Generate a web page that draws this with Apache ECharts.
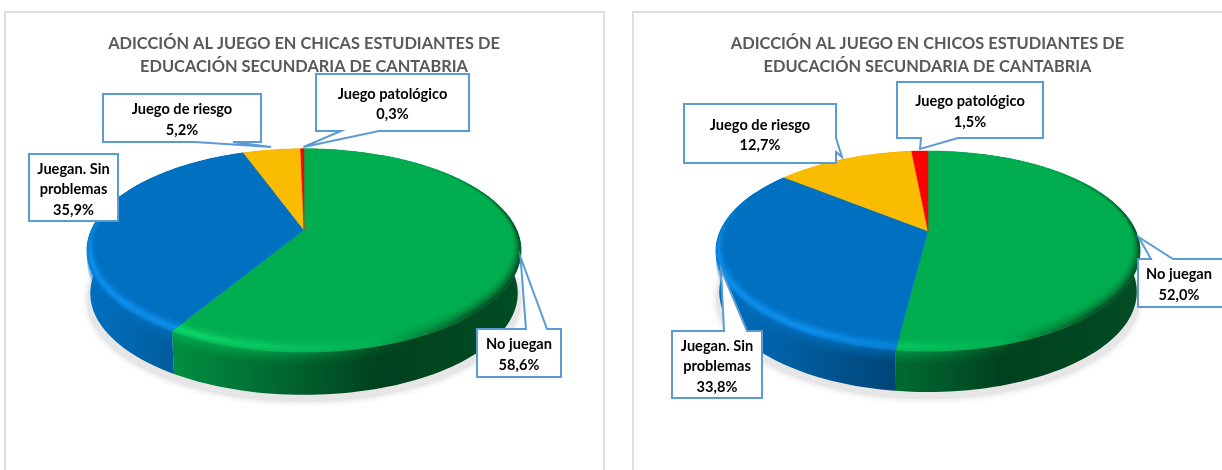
<!DOCTYPE html>
<html>
<head>
<meta charset="utf-8">
<title>Adicción al juego</title>
<script src="https://cdn.jsdelivr.net/npm/echarts@6/dist/echarts.min.js"></script>
<style>
  html, body { margin: 0; padding: 0; background: #fff; }
  #main { width: 1222px; height: 470px; }
</style>
</head>
<body>
<div id="main"></div>
<script>
// datos
const categories = ['No juegan', 'Juegan. Sin\nproblemas', 'Juego de riesgo', 'Juego patológico']
const valuesChicas = [58.6, 35.9, 5.2, 0.3]
const valuesChicos = [52.0, 33.8, 12.7, 1.5]
const titleChicas = 'ADICCIÓN AL JUEGO EN CHICAS ESTUDIANTES DE\nEDUCACIÓN SECUNDARIA DE CANTABRIA'
const titleChicos = 'ADICCIÓN AL JUEGO EN CHICOS ESTUDIANTES DE\nEDUCACIÓN SECUNDARIA DE CANTABRIA'

const colors = [[0, 174, 80], [0, 112, 192], [250, 188, 0], [255, 0, 0]]
const FONT = 'Lato, "Noto Sans", sans-serif'

// perspectiva del pie 3D
const pieChicas = { cx: 304, cy: 230, R: 212.6, S: 97.5, k: 0.2, depth: 43, left: 87, width: 434 }
const pieChicos = { cx: 928, cy: 231, R: 207.7, S: 96, k: 0.2, depth: 41, left: 716, width: 424 }

// cajas de texto: box [x0, y0, x1, y1], side del pico, a y b sobre ese lado, tip del pico
const calloutsChicas = [
  { box: [477, 329, 561, 377], side: 'top', a: 526, b: 547, tip: [520.5, 257] },
  { box: [29, 154, 118, 221] },
  { box: [103, 94, 261, 142], side: 'bottom', a: 195, b: 233, tip: [271, 147] },
  { box: [316, 74, 469, 131], side: 'bottom', a: 341, b: 379, tip: [303.5, 147] }
]
const calloutsChicos = [
  { box: [1138, 259, 1226, 307], side: 'top', a: 1151, b: 1173, tip: [1138.5, 237] },
  { box: [672, 331, 762, 398], side: 'top', a: 724, b: 747, tip: [721, 269] },
  { box: [684, 104, 836, 163], side: 'right', a: 138, b: 152, tip: [842, 157] },
  { box: [897, 82, 1043, 138], side: 'bottom', a: 921, b: 958, tip: [920, 149] }
]

function project (p, t, r) {
  const u = r * Math.sin(t)
  const v = -r * Math.cos(t)
  const d = 1 - p.k * v
  return [p.cx + p.R * u / d, p.cy + p.S * v / d]
}

function rgb (c) {
  return 'rgb(' + c.map(n => Math.max(0, Math.min(255, Math.round(n)))).join(',') + ')'
}

function arcPoints (p, t0, t1, r) {
  const n = Math.max(2, Math.ceil((t1 - t0) / 0.03))
  const pts = []
  for (let i = 0; i <= n; i++) {
    pts.push(project(p, t0 + (t1 - t0) * i / n, r))
  }
  return pts
}

function withCum (values) {
  let sum = 0
  return values.map((v, i) => {
    const row = [v, sum, i]
    sum += v
    return row
  })
}

function angles (api) {
  const t0 = api.value(1) / 100 * Math.PI * 2
  return [t0, t0 + api.value(0) / 100 * Math.PI * 2]
}

// sombra gris debajo del pie
function shadowSeries (p) {
  return {
    type: 'custom',
    coordinateSystem: 'none',
    silent: true,
    z: 1,
    data: [[0]],
    renderItem: () => ({
      type: 'polygon',
      shape: { points: arcPoints(p, 0, Math.PI * 2, 1).map(q => [q[0], q[1] + p.depth + 7]) },
      style: { fill: '#e6e6e6', shadowBlur: 7, shadowColor: '#dcdcdc' }
    })
  }
}

// pared lateral, degradado de izquierda a derecha, mas un brillo suave justo bajo el borde
function wallSeries (p, values) {
  const shade = [[0, 1], [0.2, 0.82], [0.42, 0.62], [0.68, 0.37], [1, 0.44]]
  const glow = [0.8, 0.6, 0.42, 0.26, 0.12]
  return {
    type: 'custom',
    coordinateSystem: 'none',
    silent: true,
    z: 2,
    data: withCum(values),
    renderItem: (params, api) => {
      const [t0, t1] = angles(api)
      const c = colors[api.value(2)]
      const top = arcPoints(p, t0, t1, 1)
      const bottom = top.map(q => [p.cx + (q[0] - p.cx) * 0.985, q[1] + p.depth]).reverse()
      const stops = shade.map(s => ({ offset: s[0], color: rgb(c.map(n => n * s[1])) }))
      const children = [{
        type: 'polygon',
        shape: { points: top.concat(bottom) },
        style: {
          fill: new echarts.graphic.LinearGradient(p.left, 0, p.left + p.width, 0, stops, true)
        }
      }]
      const band = 2.5
      glow.forEach((g, i) => {
        const upper = top.map(q => [q[0], q[1] + i * band])
        const lower = top.map(q => [q[0], q[1] + (i + 1) * band]).reverse()
        const col = c.join(',')
        children.push({
          type: 'polygon',
          shape: { points: upper.concat(lower) },
          style: {
            fill: new echarts.graphic.LinearGradient(p.left, 0, p.left + p.width, 0, [
              { offset: 0, color: 'rgba(' + col + ',' + g + ')' },
              { offset: 0.3, color: 'rgba(' + col + ',' + g + ')' },
              { offset: 0.75, color: 'rgba(' + col + ',0)' },
              { offset: 1, color: 'rgba(' + col + ',0)' }
            ], true)
          }
        })
      })
      return { type: 'group', children: children }
    }
  }
}

// cara superior con el bisel del borde
function topSeries (p, values) {
  return {
    type: 'custom',
    coordinateSystem: 'none',
    silent: true,
    z: 3,
    data: withCum(values),
    renderItem: (params, api) => {
      const [t0, t1] = angles(api)
      const c = colors[api.value(2)]
      const children = [{
        type: 'polygon',
        shape: { points: [[p.cx, p.cy]].concat(arcPoints(p, t0, t1, 1)) },
        style: { fill: rgb(c), stroke: rgb(c), lineWidth: 0.5 }
      }]
      const strips = 8
      const n = Math.max(1, Math.ceil((t1 - t0) / 0.05))
      const inner = t => 1 - (0.03 + 0.07 * Math.max(0, -Math.cos(t)))
      for (let i = 0; i < n; i++) {
        const a = t0 + (t1 - t0) * i / n
        const b = t0 + (t1 - t0) * (i + 1) / n
        const mid = (a + b) / 2
        const v = -Math.cos(mid)
        const f = (project(p, mid, 1)[0] - p.left) / p.width
        const light = Math.max(0, Math.min(1, (0.72 - f) / 0.5)) * Math.max(0, Math.min(1, (v + 0.4) / 0.6))
        const dark = Math.max(0, Math.min(1, (f - 0.68) / 0.22)) * Math.max(0, Math.min(1, (v + 0.9) / 0.9))
        if (light <= 0 && dark <= 0) continue
        for (let s = 0; s < strips; s++) {
          const s0 = s / strips
          const s1 = (s + 1) / strips
          // el brillo sube hasta 3/4 del bisel y luego baja hacia el borde
          const m = (s0 + s1) / 2
          const w = m < 0.75 ? Math.pow(m / 0.75, 2) : 1 - (m - 0.75) / 0.25 * 0.6
          const wd = m * m
          const col = c.map(x => (x * (1 + 0.17 * light * w) + 16 * light * w) * (1 - 0.6 * dark * wd))
          const ra0 = inner(a) + (1 - inner(a)) * s0
          const ra1 = inner(a) + (1 - inner(a)) * s1
          const rb0 = inner(b) + (1 - inner(b)) * s0
          const rb1 = inner(b) + (1 - inner(b)) * s1
          children.push({
            type: 'polygon',
            shape: { points: [project(p, a, ra0), project(p, a, ra1), project(p, b, rb1), project(p, b, rb0)] },
            style: { fill: rgb(col), stroke: rgb(col), lineWidth: 0.6 }
          })
        }
      }
      return { type: 'group', children: children }
    }
  }
}

function calloutOutline (c) {
  const [x0, y0, x1, y1] = c.box
  const pts = [[x0, y0]]
  if (c.side === 'top') pts.push([c.a, y0], c.tip, [c.b, y0])
  pts.push([x1, y0])
  if (c.side === 'right') pts.push([x1, c.a], c.tip, [x1, c.b])
  pts.push([x1, y1])
  if (c.side === 'bottom') pts.push([c.b, y1], c.tip, [c.a, y1])
  pts.push([x0, y1])
  return pts
}

function calloutSeries (callouts, values) {
  return {
    type: 'custom',
    coordinateSystem: 'none',
    silent: true,
    z: 4,
    data: values.map((v, i) => [v, i]),
    renderItem: (params, api) => {
      const i = api.value(1)
      const c = callouts[i]
      const textRight = Math.min(c.box[2], 1222)
      return {
        type: 'group',
        children: [{
          type: 'polygon',
          shape: { points: calloutOutline(c) },
          style: { fill: '#fff', stroke: '#5b9bd5', lineWidth: 2 }
        }, {
          type: 'text',
          style: {
            text: categories[i] + '\n' + api.value(0).toFixed(1).replace('.', ',') + '%',
            x: (c.box[0] + textRight) / 2 + (c.box[2] > 1222 ? -1 : 0),
            y: (c.box[1] + c.box[3]) / 2 + 2,
            align: 'center',
            verticalAlign: 'middle',
            fill: '#000',
            font: 'bold 14.6px ' + FONT,
            lineHeight: 20.5
          }
        }]
      }
    }
  }
}

const chart = echarts.init(document.getElementById('main'), null, { renderer: 'canvas' })
const titleStyle = { fontFamily: FONT, fontSize: 16.4, fontWeight: 'bold', color: '#595959', lineHeight: 23 }

chart.setOption({
  animation: false,
  backgroundColor: '#fff',
  title: [
    { text: titleChicas, left: 299, top: 27, textAlign: 'center', textStyle: titleStyle, z: 1 },
    { text: titleChicos, left: 922.5, top: 27, textAlign: 'center', textStyle: titleStyle, z: 1 }
  ],
  graphic: [
    { type: 'rect', silent: true, z: 0, shape: { x: 5, y: 12, width: 599, height: 480 }, style: { fill: '#fff', stroke: '#dedede', lineWidth: 2 } },
    { type: 'rect', silent: true, z: 0, shape: { x: 633, y: 12, width: 620, height: 480 }, style: { fill: '#fff', stroke: '#dedede', lineWidth: 2 } }
  ],
  series: [
    shadowSeries(pieChicas),
    wallSeries(pieChicas, valuesChicas),
    topSeries(pieChicas, valuesChicas),
    calloutSeries(calloutsChicas, valuesChicas),
    shadowSeries(pieChicos),
    wallSeries(pieChicos, valuesChicos),
    topSeries(pieChicos, valuesChicos),
    calloutSeries(calloutsChicos, valuesChicos)
  ]
})
</script>
</body>
</html>
